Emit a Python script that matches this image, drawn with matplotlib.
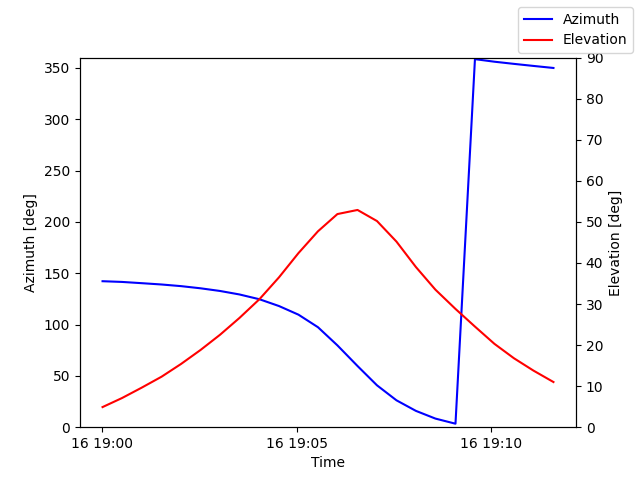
import numpy as np
import pandas as pd
import matplotlib
matplotlib.use('Agg')
import matplotlib.pyplot as plt

# pass times (UTC) and pointing angles
times = ['19:00:01', '19:00:31', '19:01:01', '19:01:32', '19:02:02', '19:02:32',
         '19:03:02', '19:03:32', '19:04:03', '19:04:33', '19:05:03', '19:05:33',
         '19:06:03', '19:06:34', '19:07:04', '19:07:34', '19:08:04', '19:08:34',
         '19:09:05', '19:09:35', '19:10:05', '19:10:35', '19:11:05', '19:11:36']
azimuth = [142.2, 141.5, 140.3, 139.0, 137.4, 135.3, 132.7, 129.3, 124.6, 118.0,
           109.6, 97.4, 79.7, 59.6, 40.8, 26.2, 15.9, 8.4, 3.4, 358.5,
           356.0, 353.9, 351.9, 349.9]
elevation = [4.9, 7.1, 9.6, 12.3, 15.4, 18.8, 22.5, 26.6, 31.2, 36.5,
             42.4, 47.7, 51.9, 52.9, 50.2, 45.2, 39.0, 33.5, 28.8, 24.5,
             20.3, 16.8, 13.8, 11.0]

t = pd.to_datetime(['2024-01-16 ' + s for s in times])

fig, ax1 = plt.subplots(figsize=(6.4, 4.8), dpi=100)
ax2 = ax1.twinx()

ax1.plot(t, azimuth, color='blue', label='Azimuth')
ax2.plot(t, elevation, color='red', label='Elevation')

ax1.set_ylim(0, 360)
ax2.set_ylim(0, 90)
ax1.set_xlabel('Time')
ax1.set_ylabel('Azimuth [deg]')
ax2.set_ylabel('Elevation [deg]')

fig.legend(loc='upper right')

plt.savefig('out.png')
